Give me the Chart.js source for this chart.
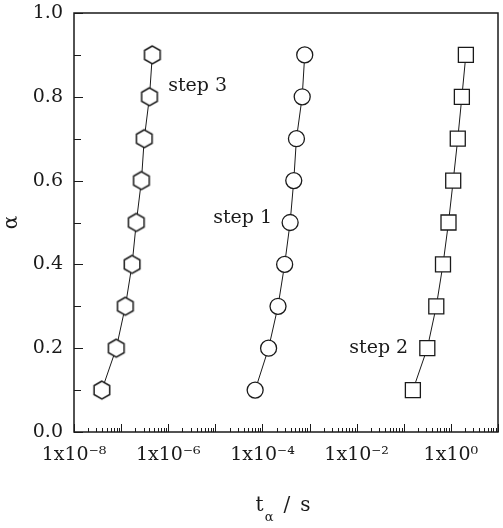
<!DOCTYPE html>
<html><head><meta charset="utf-8">
<script src="https://cdn.jsdelivr.net/npm/chart.js@4/dist/chart.umd.min.js"></script>
<style>html,body{margin:0;padding:0;background:#fff}</style>
</head><body>
<canvas id="c" width="503" height="528"></canvas>
<script>
// ---- data ----
const alphaLevels = [0.1, 0.2, 0.3, 0.4, 0.5, 0.6, 0.7, 0.8, 0.9];
const step1Times = [7.0e-5, 1.35e-4, 2.14e-4, 2.96e-4, 3.87e-4, 4.62e-4, 5.27e-4, 6.98e-4, 7.9e-4];
const step2Times = [0.156, 0.316, 0.49, 0.68, 0.89, 1.12, 1.40, 1.71, 2.08];
const step3Times = [3.9e-8, 7.9e-8, 1.23e-7, 1.71e-7, 2.1e-7, 2.7e-7, 3.1e-7, 4.0e-7, 4.6e-7];
const xTickExponents = [-8, -7, -6, -5, -4, -3, -2, -1, 0, 1];
const xLabelExponents = [-8, -6, -4, -2, 0];
const yTickValues = [0, 0.1, 0.2, 0.3, 0.4, 0.5, 0.6, 0.7, 0.8, 0.9, 1.0];
const yLabelValues = [0, 0.2, 0.4, 0.6, 0.8, 1.0];
const stepNames = ['step 1', 'step 2', 'step 3'];
const stepLabelT = [1.6e-4, 0.124, 1.0e-6];
const stepLabelAlpha = [0.511, 0.2, 0.826];

const FONT = '"DejaVu Serif", "Liberation Serif", serif';
const INK = '#1a1a1a';

function hexagonImage(r, lw) {
  const size = Math.ceil(2 * r + lw + 2);
  const cv = document.createElement('canvas');
  cv.width = size; cv.height = size;
  const g = cv.getContext('2d');
  const c = size / 2;
  g.beginPath();
  for (let i = 0; i < 6; i++) {
    const a = Math.PI / 2 + i * Math.PI / 3;
    const px = c + r * Math.cos(a), py = c - r * Math.sin(a);
    if (i === 0) g.moveTo(px, py); else g.lineTo(px, py);
  }
  g.closePath();
  g.fillStyle = '#fff'; g.fill();
  g.lineWidth = lw; g.strokeStyle = INK; g.stroke();
  return cv;
}
const hexImg = hexagonImage(9, 1.5);

const SUP = {'-': '\u207B', '0': '\u2070', '1': '\u00B9', '2': '\u00B2', '3': '\u00B3', '4': '\u2074',
  '5': '\u2075', '6': '\u2076', '7': '\u2077', '8': '\u2078', '9': '\u2079'};
function supText(n) { return String(n).split('').map(ch => SUP[ch]).join(''); }

function pts(times) { return times.map((t, i) => ({x: t, y: alphaLevels[i]})); }

const decorPlugin = {
  id: 'decor',
  afterDraw(chart) {
    const ctx = chart.ctx;
    const a = chart.chartArea;
    const xs = chart.scales.x, ys = chart.scales.y;
    ctx.save();
    ctx.strokeStyle = INK;
    ctx.lineWidth = 1;
    // y ticks (inward)
    yTickValues.forEach(v => {
      const isMajor = yLabelValues.some(l => Math.abs(l - v) < 1e-9);
      const y = Math.round(ys.getPixelForValue(v)) + 0.5;
      ctx.beginPath(); ctx.moveTo(a.left, y); ctx.lineTo(a.left + (isMajor ? 9 : 7), y); ctx.stroke();
    });
    // x ticks (inward), decades major, 2..9 minor
    xTickExponents.forEach(e => {
      for (let m = 1; m <= 9; m++) {
        const v = m * Math.pow(10, e);
        if (v < xs.min * 0.999 || v > xs.max * 1.001) continue;
        const x = Math.round(xs.getPixelForValue(v)) + 0.5;
        const len = m === 1 ? 8 : 4;
        ctx.beginPath(); ctx.moveTo(x, a.bottom); ctx.lineTo(x, a.bottom - len); ctx.stroke();
      }
    });
    // frame
    ctx.lineWidth = 1.5;
    ctx.strokeRect(a.left, a.top, a.right - a.left, a.bottom - a.top);
    // step labels
    ctx.fillStyle = INK;
    ctx.font = '19px ' + FONT;
    ctx.textBaseline = 'middle';
    stepNames.forEach((name, i) => {
      ctx.textAlign = i === 2 ? 'left' : 'right';
      ctx.fillText(name, xs.getPixelForValue(stepLabelT[i]), ys.getPixelForValue(stepLabelAlpha[i]));
    });
    // x axis title: t_alpha / s
    ctx.textAlign = 'left';
    ctx.textBaseline = 'alphabetic';
    const big = '20px ' + FONT, small = '13px ' + FONT;
    ctx.font = big; const wt = ctx.measureText('t').width;
    ctx.font = small; const wa = ctx.measureText('\u03B1').width;
    ctx.font = big; const ws = ctx.measureText('/').width, wss = ctx.measureText('s').width;
    const total = wt + 1 + wa + 10 + ws + 10 + wss;
    let x0 = (a.left + a.right) / 2 - total / 2 - 3;
    const base = 511;
    ctx.font = big; ctx.fillText('t', x0, base); x0 += wt + 1;
    ctx.font = small; ctx.fillText('\u03B1', x0, base + 10); x0 += wa + 10;
    ctx.font = big; ctx.fillText('/', x0, base); x0 += ws + 10;
    ctx.fillText('s', x0, base);
    ctx.restore();
  }
};

new Chart(document.getElementById('c'), {
  type: 'line',
  data: {
    datasets: [
      {label: stepNames[0], data: pts(step1Times), pointStyle: 'circle', pointRadius: 8},
      {label: stepNames[1], data: pts(step2Times), pointStyle: 'rect', pointRadius: 10.6},
      {label: stepNames[2], data: pts(step3Times), pointStyle: hexImg, pointRadius: 9}
    ].map(d => Object.assign(d, {
      borderColor: INK, borderWidth: 1, pointBorderColor: INK, pointBackgroundColor: '#fff',
      pointBorderWidth: 1.3, pointHoverRadius: d.pointRadius, tension: 0, fill: false
    }))
  },
  options: {
    responsive: false,
    animation: false,
    devicePixelRatio: 1,
    layout: {autoPadding: false, padding: {top: 13, right: 5, left: 0, bottom: 0}},
    plugins: {legend: {display: false}, tooltip: {enabled: false}},
    scales: {
      x: {
        type: 'logarithmic', min: 1e-8, max: 10,
        afterBuildTicks(s) { s.ticks = xTickExponents.map(e => ({value: Math.pow(10, e)})); },
        afterFit(s) { s.height = 96; s.paddingLeft = 0; s.paddingRight = 0; },
        grid: {display: false, drawTicks: false}, border: {display: false},
        ticks: {
          autoSkip: false, maxRotation: 0, minRotation: 0, padding: 12, color: INK,
          font: {family: FONT, size: 19},
          callback(v) {
            const e = Math.round(Math.log10(v));
            return xLabelExponents.includes(e) ? '1x10' + supText(e) : '';
          }
        }
      },
      y: {
        min: 0, max: 1,
        afterFit(s) { s.width = 74; s.paddingTop = 0; s.paddingBottom = 0; },
        grid: {display: false, drawTicks: false}, border: {display: false},
        ticks: {
          stepSize: 0.1, padding: 11, color: INK, autoSkip: false,
          font: {family: FONT, size: 19},
          callback(v) {
            const k = Math.round(v * 10);
            return k % 2 === 0 ? (k / 10).toFixed(1) : '';
          }
        },
        title: {display: true, text: '\u03B1', color: INK, font: {family: FONT, size: 20}, padding: 0}
      }
    }
  },
  plugins: [decorPlugin]
});
</script>
</body></html>
